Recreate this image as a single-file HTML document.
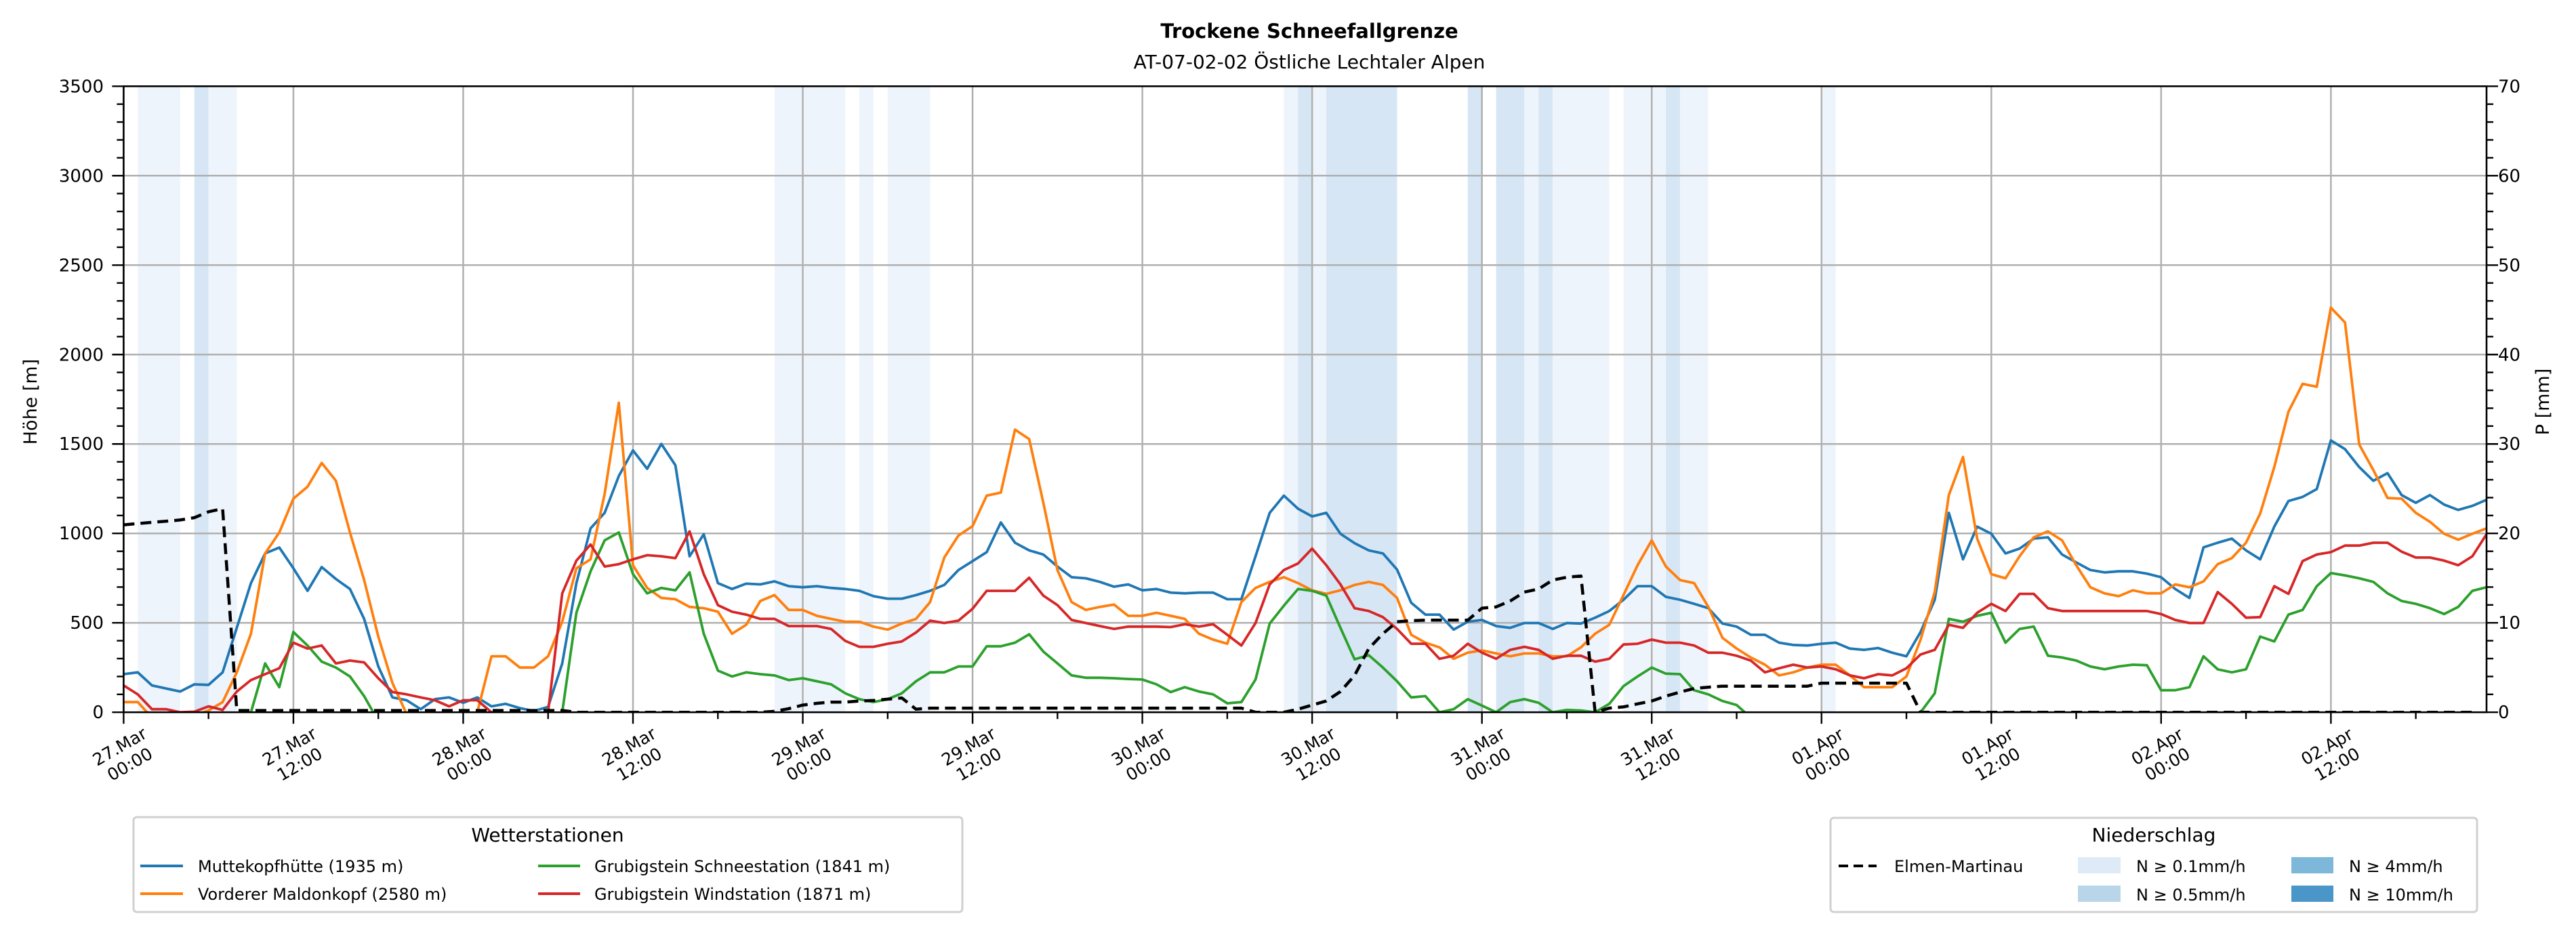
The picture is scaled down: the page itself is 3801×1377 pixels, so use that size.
<!DOCTYPE html>
<html><head><meta charset="utf-8">
<style>
html,body{margin:0;padding:0;background:#fff;}
svg{display:block;font-family:"DejaVu Sans","Liberation Sans",sans-serif;}
</style></head>
<body>
<svg id="chart" width="3801" height="1377" viewBox="0 0 3801 1377" xmlns="http://www.w3.org/2000/svg">
  <rect x="0" y="0" width="3801" height="1377" fill="#fff"/>
  <g id="bands"></g>
  <g id="grid"></g>
  <defs><clipPath id="clip"><rect x="182.4" y="127.3" width="3486.6" height="923.9"/></clipPath></defs>
  <g id="series" clip-path="url(#clip)"></g>
  <g id="axes"></g>
  <text x="1932" y="56" text-anchor="middle" font-size="29" font-weight="bold">Trockene Schneefallgrenze</text>
  <text x="1932" y="101" text-anchor="middle" font-size="28">AT-07-02-02 Östliche Lechtaler Alpen</text>
  <text transform="translate(54,593) rotate(-90)" text-anchor="middle" font-size="27">Höhe [m]</text>
  <text transform="translate(3761,593) rotate(-90)" text-anchor="middle" font-size="27">P [mm]</text>

  <g>
    <rect x="197" y="1206" width="1223" height="140" rx="5" fill="#fff" stroke="#d0d0d0" stroke-width="3"/>
    <text x="808" y="1242" text-anchor="middle" font-size="28">Wetterstationen</text>
    <g><line x1="207" y1="1278" x2="270" y2="1278" stroke="#1f77b4" stroke-width="4"/><text x="292" y="1287" font-size="24">Muttekopfhütte (1935 m)</text></g>
    <g><line x1="207" y1="1319" x2="270" y2="1319" stroke="#ff7f0e" stroke-width="4"/><text x="292" y="1328" font-size="24">Vorderer Maldonkopf (2580 m)</text></g>
    <g><line x1="794" y1="1278" x2="856" y2="1278" stroke="#2ca02c" stroke-width="4"/><text x="877" y="1287" font-size="24">Grubigstein Schneestation (1841 m)</text></g>
    <g><line x1="794" y1="1319" x2="856" y2="1319" stroke="#d62728" stroke-width="4"/><text x="877" y="1328" font-size="24">Grubigstein Windstation (1871 m)</text></g>
  </g>
  <g>
    <rect x="2701" y="1207" width="954" height="139" rx="5" fill="#fff" stroke="#d0d0d0" stroke-width="3"/>
    <text x="3178" y="1242" text-anchor="middle" font-size="28">Niederschlag</text>
    <g><line x1="2713" y1="1278" x2="2769" y2="1278" stroke="#000" stroke-width="4" stroke-dasharray="14,8"/><text x="2795" y="1287" font-size="24">Elmen-Martinau</text></g>
    <g><rect x="3066" y="1265" width="63" height="24" fill="#deebf7"/><text x="3152" y="1287" font-size="24">N ≥ 0.1mm/h</text></g>
    <g><rect x="3066" y="1307" width="63" height="24" fill="#b9d5ea"/><text x="3152" y="1329" font-size="24">N ≥ 0.5mm/h</text></g>
    <g><rect x="3381" y="1265" width="62" height="24" fill="#7db8da"/><text x="3466" y="1287" font-size="24">N ≥ 4mm/h</text></g>
    <g><rect x="3381" y="1307" width="62" height="24" fill="#4a96c9"/><text x="3466" y="1329" font-size="24">N ≥ 10mm/h</text></g>
  </g>
</svg>
<script>
const muttekopf = [213,223,150,133,116,156,153,223,472,722,888,921,805,679,812,745,689,522,256,83,67,17,73,83,53,83,33,47,23,7,30,273,722,1028,1115,1321,1464,1361,1500,1381,872,995,722,689,719,715,732,705,699,705,695,689,679,649,635,635,655,679,712,795,845,895,1061,948,905,882,815,755,749,729,702,715,682,689,669,665,669,669,632,632,872,1115,1211,1138,1095,1115,998,945,905,888,798,612,546,546,462,506,516,482,472,499,499,466,499,496,529,566,629,705,705,645,629,606,582,496,479,433,433,389,376,373,383,389,356,349,359,333,313,449,629,1115,855,1038,998,888,915,971,978,882,838,795,782,788,788,775,755,689,639,922,948,971,905,855,1038,1181,1204,1248,1520,1471,1371,1294,1337,1214,1171,1214,1161,1131,1154,1188];
const maldonkopf = [57,57,-30,-30,-30,-20,10,57,223,439,888,1005,1194,1261,1394,1294,1005,739,423,163,-10,-50,-50,-50,-50,0,313,313,250,250,313,506,805,855,1221,1730,822,695,639,632,589,582,562,439,489,622,655,572,572,539,522,506,506,479,462,496,522,616,865,988,1041,1211,1228,1580,1527,1171,795,616,572,589,602,539,539,556,539,522,439,406,383,616,695,729,755,722,682,662,682,712,729,712,639,433,389,363,299,333,346,329,313,329,329,313,313,363,439,489,655,822,961,815,739,722,589,416,356,306,266,206,223,250,266,266,206,140,140,140,200,406,672,1214,1427,971,772,749,872,978,1011,961,822,699,665,649,682,665,665,715,699,732,828,862,948,1111,1371,1680,1836,1820,2262,2179,1497,1354,1198,1194,1115,1065,998,965,998,1028];
const schneestation = [-50,-50,-50,-50,-50,-50,-50,-50,-50,0,273,140,449,373,283,250,200,90,-50,-50,-50,-50,-50,-50,-50,-50,-50,-50,-50,-50,-200,0,556,788,961,1005,772,665,695,682,782,439,233,200,223,213,206,180,190,173,156,106,73,57,73,106,173,223,223,256,256,369,369,389,436,339,273,206,193,193,190,186,183,156,113,140,116,100,50,57,183,496,596,689,679,652,472,296,319,250,173,83,90,0,17,73,37,0,57,73,53,0,13,10,0,47,146,200,250,216,213,123,100,63,40,-30,-30,-30,-30,-30,-30,-30,-30,-30,-30,-30,-100,0,106,522,506,539,556,389,466,479,316,306,289,256,240,256,266,263,123,123,140,313,240,223,240,423,396,546,572,705,778,765,749,729,665,622,606,582,549,589,679,699];
const windstation = [150,100,17,17,0,3,33,13,116,180,213,246,389,356,373,273,289,279,190,113,100,83,67,33,67,67,0,-30,-30,-30,0,665,848,938,815,828,855,878,872,862,1011,772,599,562,546,522,522,482,482,482,466,399,366,366,383,396,446,512,499,512,579,679,679,679,752,652,599,516,499,482,466,479,479,479,476,492,479,492,433,373,499,715,795,832,915,822,715,582,566,532,466,383,383,299,316,383,333,299,349,366,349,299,316,316,283,299,379,383,406,389,389,373,333,333,316,289,223,246,266,250,256,240,206,190,213,206,246,323,349,489,472,556,606,566,662,662,582,566,566,566,566,566,566,566,549,516,499,499,672,606,529,532,705,662,845,882,895,932,932,948,948,898,865,865,848,822,872,995];
const elmen = [1048,1055,1062,1068,1075,1088,1121,1138,10,10,10,10,10,10,10,10,10,10,10,10,10,10,10,10,10,10,10,10,10,10,10,10,0,0,0,0,0,0,0,0,0,0,0,0,0,0,5,20,40,50,57,57,63,66,73,80,17,23,23,23,23,23,23,23,23,23,23,23,23,23,23,23,23,23,23,23,23,23,23,23,0,0,0,17,40,63,116,206,356,439,506,512,515,515,515,515,582,589,622,672,689,739,755,762,0,23,30,47,63,90,113,133,140,146,146,146,146,146,146,146,163,163,163,163,163,163,163,0,0,0,0,0,0,0,0,0,0,0,0,0,0,0,0,0,0,0,0,0,0,0,0,0,0,0,0,0,0,0,0,0,0,0,0,0,0,0,0];
// precipitation bands: [startHour, endHour, level]  level 1 = N>=0.1, 2 = N>=0.5
const bandStart = [1,5,6,46,52,54,82,83,84,85,95,97,99,100,101,106,109,110,120];
const bandEnd   = [4,6,8,51,53,57,83,84,85,90,96,99,100,101,105,109,110,112,121];
const bandLevel = [1,2,1,1,1,1,1,2,1,2,2,2,1,2,1,1,2,1,1];
const xTickLabels = ["27.Mar\n00:00","27.Mar\n12:00","28.Mar\n00:00","28.Mar\n12:00","29.Mar\n00:00","29.Mar\n12:00","30.Mar\n00:00","30.Mar\n12:00","31.Mar\n00:00","31.Mar\n12:00","01.Apr\n00:00","01.Apr\n12:00","02.Apr\n00:00","02.Apr\n12:00"];
const yTicks = [0,500,1000,1500,2000,2500,3000,3500];
const y2Ticks = [0,10,20,30,40,50,60,70];

const L=182.4, R=3669, T=127.3, B=1051.2, XMAX=167, YMAX=3500;
const xs = h => L + (R-L)*h/XMAX;
const ys = v => B - (B-T)*v/YMAX;
const NS="http://www.w3.org/2000/svg";
function mk(tag, parent, attrs){const e=document.createElementNS(NS,tag);for(const k in attrs)e.setAttribute(k,attrs[k]);parent.appendChild(e);return e;}

const gb=document.getElementById('bands');
bandStart.forEach((s,i)=>{
  const r=mk('rect',gb,{x:xs(s),y:T,width:xs(bandEnd[i])-xs(s),height:B-T,fill:bandLevel[i]===2?'#d6e6f4':'#eef4fb'});
  
  
});
const gg=document.getElementById('grid');
xTickLabels.forEach((t,i)=>{const x=xs(i*12);const l=mk('line',gg,{x1:x,y1:T,x2:x,y2:B,stroke:'#b0b0b0','stroke-width':2.5});
  
  });
yTicks.forEach(v=>{const y=ys(v);const l=mk('line',gg,{x1:L,y1:y,x2:R,y2:y,stroke:'#b0b0b0','stroke-width':2.5});
  
  });

const gs=document.getElementById('series');
function line(arr,color,name,dash){
  const d=arr.map((v,i)=>(i?'L':'M')+xs(i).toFixed(1)+','+ys(v).toFixed(1)).join('');
  const p=mk('path',gs,{d:d,fill:'none',stroke:color,'stroke-width':dash?4.5:3.8,'stroke-linejoin':'round'});
  if(dash)p.setAttribute('stroke-dasharray','16,9');
  
  
}
line(muttekopf,'#1f77b4','series-muttekopf');
line(maldonkopf,'#ff7f0e','series-maldonkopf');
line(schneestation,'#2ca02c','series-schneestation');
line(windstation,'#d62728','series-windstation');
line(elmen,'#000','series-elmen-martinau',true);

const ga=document.getElementById('axes');
const fr=mk('rect',ga,{x:L,y:T,width:R-L,height:B-T,fill:'none',stroke:'#000','stroke-width':2.6});


for(let h=0;h<=XMAX;h+=6){const x=xs(h);const maj=h%12===0;mk('line',ga,{x1:x,y1:B,x2:x,y2:B+(maj?17:10),stroke:'#000','stroke-width':2.4});}
xTickLabels.forEach((t,i)=>{
  const x=xs(i*12);const parts=t.split('\n');
  const tx=mk('text',ga,{transform:`translate(${x},1112) rotate(-30)`,'text-anchor':'middle','font-size':25});
  
  
  const a=mk('tspan',tx,{x:0,y:-3});a.textContent=parts[0];
  const b=mk('tspan',tx,{x:0,y:27});b.textContent=parts[1];
});
for(let v=0;v<=YMAX;v+=100){const y=ys(v);const maj=v%500===0;mk('line',ga,{x1:L,y1:y,x2:L-(maj?17:10),y2:y,stroke:'#000','stroke-width':2.4});}
yTicks.forEach(v=>{const t=mk('text',ga,{x:153,y:ys(v)+9,'text-anchor':'end','font-size':26});t.textContent=v;
  
  });
for(let v=0;v<=70;v+=2){const y=B-(B-T)*v/70;const maj=v%10===0;mk('line',ga,{x1:R,y1:y,x2:R+(maj?17:10),y2:y,stroke:'#000','stroke-width':2.4});}
y2Ticks.forEach(v=>{const t=mk('text',ga,{x:3686,y:B-(B-T)*v/70+9,'font-size':26});t.textContent=v;
  
  });
</script>
</body></html>
